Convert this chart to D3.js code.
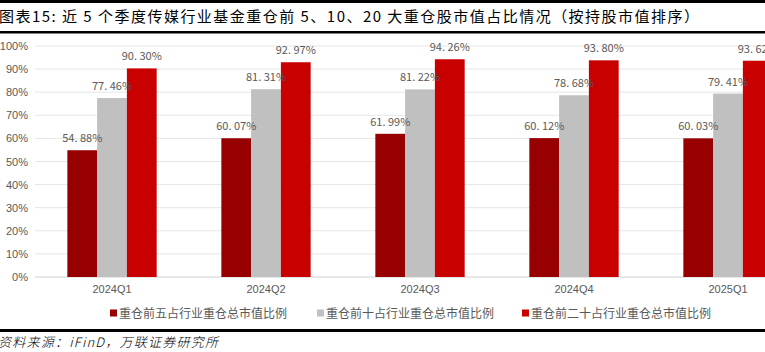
<!DOCTYPE html>
<html>
<head>
<meta charset="utf-8">
<script src="https://cdn.jsdelivr.net/npm/d3@7"></script>
<style>
  body { margin: 0; background: #fff; }
  svg { display: block; }
</style>
</head>
<body>
<svg id="chart"></svg>
<script>
// datos del grafico
const quarters = ['2024Q1', '2024Q2', '2024Q3', '2024Q4', '2025Q1'];
const seriesNames = ['重仓前五占行业重仓总市值比例', '重仓前十占行业重仓总市值比例', '重仓前二十占行业重仓总市值比例'];
const top5 = [54.88, 60.07, 61.99, 60.12, 60.03];
const top10 = [77.46, 81.31, 81.22, 78.68, 79.41];
const top20 = [90.30, 92.97, 94.26, 93.80, 93.62];
const yTicks = [0, 10, 20, 30, 40, 50, 60, 70, 80, 90, 100];
const colors = ['#960000', '#c0c0c0', '#c80000'];

const series = [top5, top10, top20];

const [w, h] = [765, 352];
const svg = d3.select('#chart').attr('width', w).attr('height', h);

// lineas y titulo
svg.append('rect').attr('x', 0).attr('y', 0).attr('width', w).attr('height', 3).attr('fill', '#000');
svg.append('rect').attr('x', 0).attr('y', 31).attr('width', w).attr('height', 2.5).attr('fill', '#000');
svg.append('rect').attr('x', 0).attr('y', 329).attr('width', w).attr('height', 3).attr('fill', '#000');

svg.append('text')
  .attr('x', -1).attr('y', 22)
  .attr('font-family', '"Noto Sans CJK SC", "Liberation Serif"')
  .attr('font-size', 15)
  .attr('fill', '#000')
  .attr('textLength', 700)
  .attr('lengthAdjust', 'spacing')
  .text('图表15:  近 5 个季度传媒行业基金重仓前 5、10、20 大重仓股市值占比情况（按持股市值排序）');

svg.append('text')
  .attr('x', -2).attr('y', 347)
  .attr('font-family', '"Noto Sans CJK SC"')
  .attr('font-size', 13)
  .attr('font-style', 'italic')
  .attr('font-weight', 300)
  .attr('fill', '#000')
  .attr('textLength', 220)
  .attr('lengthAdjust', 'spacing')
  .text('资料来源：iFinD，万联证券研究所');

// escalas
const x0 = d3.scaleBand().domain(quarters).range([35, 805]).paddingInner(0.42).paddingOuter(0.21);
const x1 = d3.scaleBand().domain([0, 1, 2]).range([0, x0.bandwidth()]);
const y = d3.scaleLinear().domain([0, 100]).range([277, 46]);

// rejilla
svg.append('g').selectAll('line')
  .data(yTicks)
  .enter().append('line')
  .attr('x1', 35).attr('x2', w)
  .attr('y1', d => y(d)).attr('y2', d => y(d))
  .attr('stroke', d => d === 0 ? '#d0d0d0' : '#e6e6e6')
  .attr('stroke-width', 1);

const yAxis = d3.axisLeft(y).tickValues(yTicks).tickSize(0).tickPadding(0).tickFormat(d => d + '%');
svg.append('g')
  .attr('transform', 'translate(28,0)')
  .call(yAxis)
  .call(g => g.select('.domain').remove())
  .call(g => g.selectAll('text')
    .attr('font-family', '"Liberation Sans", Arial')
    .attr('font-size', 11)
    .attr('fill', '#595959'));

const xAxis = d3.axisBottom(x0).tickSize(0).tickPadding(8);
svg.append('g')
  .attr('transform', 'translate(0,277)')
  .call(xAxis)
  .call(g => g.select('.domain').remove())
  .call(g => g.selectAll('text')
    .attr('font-family', '"Liberation Sans", Arial')
    .attr('font-size', 11)
    .attr('fill', '#595959'));

// barras
const groups = svg.append('g').selectAll('g')
  .data(quarters)
  .enter().append('g')
  .attr('transform', d => 'translate(' + x0(d) + ',0)');

groups.selectAll('rect')
  .data((q, i) => series.map((s, k) => ({ k: k, v: s[i] })))
  .enter().append('rect')
  .attr('x', d => x1(d.k))
  .attr('width', x1.bandwidth())
  .attr('y', d => y(d.v))
  .attr('height', d => y(0) - y(d.v))
  .attr('fill', d => colors[d.k]);

groups.selectAll('text')
  .data((q, i) => series.map((s, k) => ({ k: k, v: s[i] })))
  .enter().append('text')
  .attr('x', d => x1(d.k) + x1.bandwidth() / 2)
  .attr('y', d => y(d.v) - 8)
  .attr('text-anchor', 'middle')
  .attr('font-family', '"Noto Sans CJK SC"')
  .attr('font-size', 11)
  .attr('fill', '#595959')
  .text(d => d.v.toFixed(2).replace('.', '. ') + '%');

// leyenda
const legX = [110, 317, 522];
const leg = svg.append('g').selectAll('g')
  .data(seriesNames)
  .enter().append('g')
  .attr('transform', (d, i) => 'translate(' + legX[i] + ',313)');

leg.append('rect')
  .attr('x', 0).attr('y', -3.5)
  .attr('width', 7).attr('height', 7)
  .attr('fill', (d, i) => colors[i]);

leg.append('text')
  .attr('x', 9).attr('y', 4.5)
  .attr('font-family', '"Noto Sans CJK SC"')
  .attr('font-size', 12)
  .attr('fill', '#595959')
  .text(d => d);
</script>
</body>
</html>
